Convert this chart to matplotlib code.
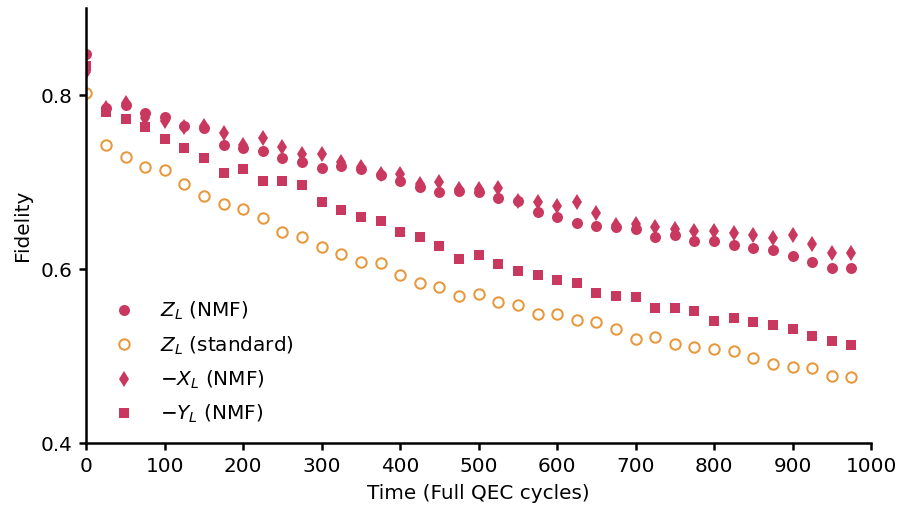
import numpy as np
import matplotlib
matplotlib.use("Agg")
import matplotlib.pyplot as plt

t = [0, 25, 50, 75, 100, 125, 150, 175, 200, 225, 250, 275, 300, 325, 350, 375,
     400, 425, 450, 475, 500, 525, 550, 575, 600, 625, 650, 675, 700, 725, 750,
     775, 800, 825, 850, 875, 900, 925, 950, 975]

z_nmf = [0.848, 0.785, 0.789, 0.780, 0.775, 0.765, 0.762, 0.743, 0.739, 0.736,
         0.728, 0.723, 0.716, 0.719, 0.715, 0.708, 0.702, 0.695, 0.689, 0.690,
         0.689, 0.682, 0.678, 0.666, 0.660, 0.653, 0.650, 0.649, 0.646, 0.637,
         0.639, 0.633, 0.632, 0.628, 0.625, 0.622, 0.615, 0.608, 0.602, 0.602]

z_std = [0.803, 0.743, 0.729, 0.718, 0.714, 0.698, 0.684, 0.675, 0.669, 0.659,
         0.643, 0.637, 0.626, 0.618, 0.608, 0.607, 0.594, 0.584, 0.580, 0.569,
         0.572, 0.562, 0.559, 0.549, 0.549, 0.542, 0.539, 0.531, 0.520, 0.522,
         0.514, 0.511, 0.508, 0.506, 0.498, 0.491, 0.488, 0.487, 0.477, 0.476]

x_nmf = [0.827, 0.785, 0.791, 0.774, 0.770, 0.764, 0.765, 0.757, 0.743, 0.751,
         0.741, 0.733, 0.733, 0.723, 0.718, 0.710, 0.710, 0.698, 0.700, 0.692,
         0.692, 0.693, 0.678, 0.677, 0.673, 0.677, 0.665, 0.651, 0.652, 0.649,
         0.646, 0.644, 0.644, 0.642, 0.639, 0.636, 0.639, 0.629, 0.619, 0.619]

y_nmf = [0.834, 0.781, 0.773, 0.763, 0.750, 0.740, 0.728, 0.711, 0.715, 0.701,
         0.701, 0.697, 0.677, 0.668, 0.660, 0.656, 0.643, 0.637, 0.627, 0.612,
         0.616, 0.606, 0.598, 0.594, 0.588, 0.584, 0.573, 0.569, 0.568, 0.555,
         0.556, 0.552, 0.540, 0.544, 0.539, 0.536, 0.531, 0.523, 0.518, 0.513]

crimson = "#C9385E"
orange = "#E8973A"

plt.rcParams['font.family'] = ['DejaVu Sans']
plt.rcParams['font.size'] = 10

fig = plt.figure(figsize=(902 / 144, 505 / 144), dpi=144)
ax = fig.add_axes([86.3 / 902, 1 - 443.3 / 505, (871 - 86.3) / 902, (443.3 - 8.3) / 505])

ax.plot(t, z_nmf, 'o', color=crimson, ms=5.5, mec='none', label=r'$Z_L$ (NMF)')
ax.plot(t, z_std, 'o', color=orange, ms=5.2, mfc='none', mew=1.0, label=r'$Z_L$ (standard)')
ax.plot(t, x_nmf, 'd', color=crimson, ms=6, mec='none', label=r'$-X_L$ (NMF)')
ax.plot(t, y_nmf, 's', color=crimson, ms=5.3, mec='none', label=r'$-Y_L$ (NMF)')

ax.set_xlim(0, 1000)
ax.set_ylim(0.4, 0.9)
ax.set_xticks(np.arange(0, 1001, 100))
ax.set_yticks([0.4, 0.6, 0.8])
ax.set_xlabel('Time (Full QEC cycles)')
ax.set_ylabel('Fidelity')
ax.spines['top'].set_visible(False)
ax.spines['right'].set_visible(False)
for s in ['left', 'bottom']:
    ax.spines[s].set_linewidth(1.25)
ax.tick_params(width=1.25)
ax.legend(loc='lower left', frameon=False, labelspacing=0.6)

fig.savefig('out.png', dpi=144)
